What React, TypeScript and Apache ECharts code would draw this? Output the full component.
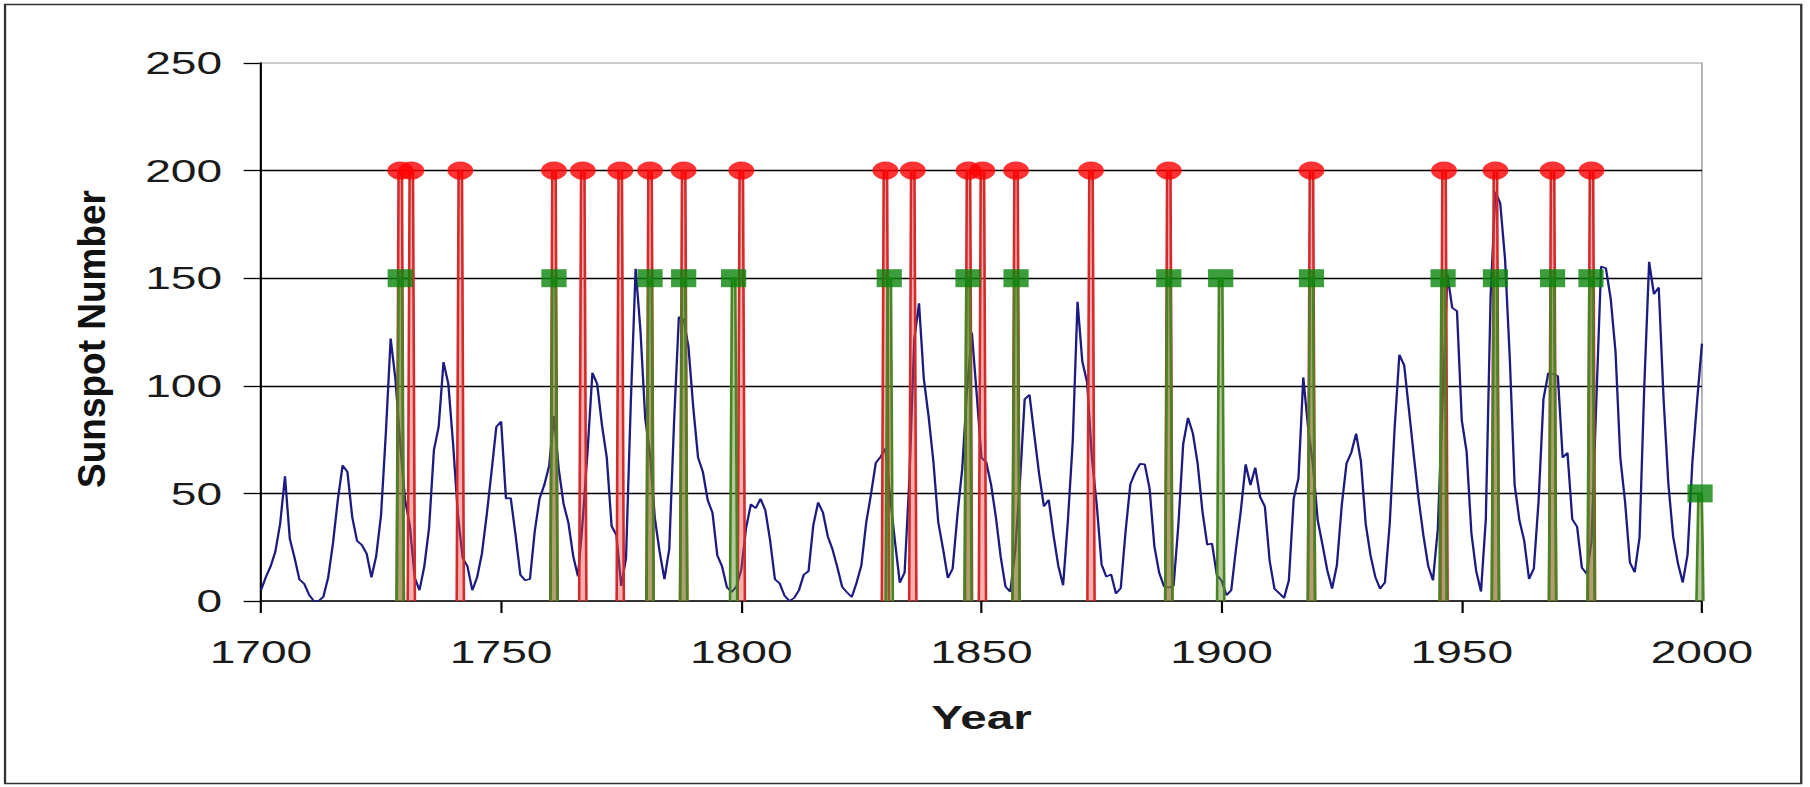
import React, { useEffect, useRef } from "react";
import * as echarts from "echarts";

// Yearly sunspot numbers, 1700 .. 2000
const START_YEAR = 1700;
const sunspots = [
  5, 11, 16, 23, 36, 58, 29, 20, 10, 8,
  3, 0, 0, 2, 11, 27, 47, 63, 60, 39,
  28, 26, 22, 11, 21, 40, 78, 122, 103, 73,
  47, 35, 11, 5, 16, 34, 70, 81, 111, 101,
  73, 40, 20, 16, 5, 11, 22, 40, 60, 80.9,
  83.4, 47.7, 47.8, 30.7, 12.2, 9.6, 10.2, 32.4, 47.6, 54,
  62.9, 85.9, 61.2, 45.1, 36.4, 20.9, 11.4, 37.8, 69.8, 106.1,
  100.8, 81.6, 66.5, 34.8, 30.6, 7, 19.8, 92.5, 154.4, 125.9,
  84.8, 68.1, 38.5, 22.8, 10.2, 24.1, 82.9, 132, 130.9, 118.1,
  89.9, 66.6, 60, 46.9, 41, 21.3, 16, 6.4, 4.1, 6.8,
  14.5, 34, 45, 43.1, 47.5, 42.2, 28.1, 10.1, 8.1, 2.5,
  0, 1.4, 5, 12.2, 13.9, 35.4, 45.8, 41.1, 30.1, 23.9,
  15.6, 6.6, 4, 1.8, 8.5, 16.6, 36.3, 49.6, 64.2, 67,
  70.9, 47.8, 27.5, 8.5, 13.2, 56.9, 121.5, 138.3, 103.2, 85.7,
  64.6, 36.7, 24.2, 10.7, 15, 40.1, 61.5, 98.5, 124.7, 96.3,
  66.6, 64.5, 54.1, 39, 20.6, 6.7, 4.3, 22.7, 54.8, 93.8,
  95.8, 77.2, 59.1, 44, 47, 30.5, 16.3, 7.3, 37.6, 74,
  139, 111.2, 101.6, 66.2, 44.7, 17, 11.3, 12.4, 3.4, 6,
  32.3, 54.3, 59.7, 63.7, 63.5, 52.2, 25.4, 13.1, 6.8, 6.3,
  7.1, 35.6, 73, 85.1, 78, 64, 41.8, 26.2, 26.7, 12.1,
  9.5, 2.7, 5, 24.4, 42, 63.5, 53.8, 62, 48.5, 43.9,
  18.6, 5.7, 3.6, 1.4, 9.6, 47.4, 57.1, 103.9, 80.6, 63.6,
  37.6, 26.1, 14.2, 5.8, 16.7, 44.3, 63.9, 69, 77.8, 64.9,
  35.7, 21.2, 11.1, 5.7, 8.7, 36.1, 79.7, 114.4, 109.6, 88.8,
  67.8, 47.5, 30.6, 16.3, 9.6, 33.2, 92.6, 151.6, 136.3, 134.7,
  83.9, 69.4, 31.5, 13.9, 4.4, 38, 141.7, 190.2, 184.8, 159,
  112.3, 53.9, 37.5, 27.9, 10.2, 15.1, 47, 93.8, 105.9, 105.5,
  104.5, 66.6, 68.9, 38, 34.5, 15.5, 12.6, 27.5, 92.5, 155.4,
  154.6, 140.5, 115.9, 66.6, 45.9, 17.9, 13.4, 29.4, 100.2, 157.6,
  142.6, 145.7, 94.3, 54.6, 29.9, 17.5, 8.6, 21.5, 64.3, 93.3,
  119.6,
];
const years = sunspots.map((_, i) => START_YEAR + i);

// Red events (circle marker at 200)
const redYears = [
  1729, 1731.3, 1741.5, 1761, 1767, 1774.8, 1781, 1788, 1800, 1830,
  1835.7, 1847.3, 1850.2, 1857.2, 1872.8, 1889, 1918.7, 1946.3, 1957,
  1968.9, 1977,
];
const redValues = redYears.map(() => 200);

// Green events (square marker)
const greenYears = [
  1729, 1761, 1781, 1788, 1798.4, 1830.8, 1847.2, 1857.2, 1889, 1899.8,
  1918.7, 1946.1, 1957, 1968.9, 1976.9, 1999.6,
];
const greenValues = [
  150, 150, 150, 150, 150, 150, 150, 150, 150, 150,
  150, 150, 150, 150, 150, 50,
];

// Axes
const X_MIN = 1700;
const X_MAX = 2000;
const X_STEP = 50;
const Y_MIN = 0;
const Y_MAX = 250;
const Y_STEP = 50;

const STRETCH = 1.441; // the original picture is stretched horizontally
const W = 1256;
const H = 787;
const FONT = '"Liberation Sans", Arial, sans-serif';

// each event is drawn as a thin stripe from the axis up to its value
function stripes(xs: number[], ys: number[], top: number, bottom: number) {
  const out: any[] = [];
  xs.forEach((x, i) => {
    out.push(
      [x - bottom, 0],
      [x - top, ys[i]],
      [x + top, ys[i]],
      [x + bottom, 0],
      [x + bottom, "-"]
    );
  });
  return out;
}

export default function App() {
  const ref = useRef<HTMLDivElement>(null);
  useEffect(() => {
    if (!ref.current) return;
    const chart = echarts.init(ref.current, null, { renderer: "svg" });
    const topHalf = 0.35;
    const bottomHalf = 0.75;
    chart.setOption({
      animation: false,
      backgroundColor: "#ffffff",
      grid: {
        left: 181.1,
        top: 63,
        width: 1000,
        height: 538,
        show: true,
        borderColor: "#9a9a9a",
        borderWidth: 1,
        containLabel: false,
      },
      xAxis: {
        type: "value",
        min: X_MIN,
        max: X_MAX,
        interval: X_STEP,
        name: "Year",
        nameLocation: "middle",
        nameGap: 100,
        nameTextStyle: {
          fontSize: 33,
          fontWeight: "bold",
          fontFamily: FONT,
          color: "#1a1a1a",
        },
        axisLine: { show: true, onZero: false, lineStyle: { color: "#000", width: 1.5 } },
        axisTick: { show: true, inside: false, length: 12, lineStyle: { color: "#000", width: 1.5 } },
        axisLabel: {
          margin: 35,
          fontSize: 32,
          fontFamily: FONT,
          color: "#1a1a1a",
          formatter: (v: number) => String(v),
        },
        splitLine: { show: false },
      },
      yAxis: {
        type: "value",
        min: Y_MIN,
        max: Y_MAX,
        interval: Y_STEP,
        axisLine: { show: true, lineStyle: { color: "#000", width: 1.5 } },
        axisTick: { show: true, inside: false, length: 12, lineStyle: { color: "#000", width: 1.3 } },
        axisLabel: {
          margin: 27,
          fontSize: 32,
          fontFamily: FONT,
          color: "#1a1a1a",
        },
        splitLine: {
          show: true,
          showMinLine: false,
          showMaxLine: false,
          lineStyle: { color: "#000", width: 1.3 },
        },
      },
      graphic: [
        {
          type: "rect",
          shape: { x: 3.5, y: 4.5, width: 1246.5, height: 779 },
          style: { fill: "none", stroke: "#333", lineWidth: 1.6 },
          silent: true,
        },
        {
          type: "text",
          x: 63.5,
          y: 339,
          rotation: Math.PI / 2,
          scaleX: 1.37,
          style: {
            text: "Sunspot Number",
            font: 'bold 27px "Liberation Sans", Arial, sans-serif',
            fill: "#111",
            align: "center",
            verticalAlign: "middle",
            textAlign: "center",
            textVerticalAlign: "middle",
          },
          silent: true,
        },
      ],
      series: [
        {
          name: "Sunspot Number",
          type: "line",
          data: years.map((y, i) => [y, sunspots[i]]),
          showSymbol: false,
          symbol: "none",
          lineStyle: { color: "#1b1b82", width: 1.6 },
          z: 2,
        },
        {
          name: "Red lines",
          type: "line",
          data: stripes(redYears, redValues, topHalf, bottomHalf),
          showSymbol: false,
          symbol: "none",
          connectNulls: false,
          lineStyle: { color: "#d42a2a", width: 1.8 },
          areaStyle: { color: "rgba(235,70,70,0.6)", origin: "start" },
          z: 3,
        },
        {
          name: "Red events",
          type: "scatter",
          data: redYears.map((y, i) => [y, redValues[i]]),
          symbol: "circle",
          symbolSize: 18,
          itemStyle: { color: "#ff0000" },
          z: 4,
        },
        {
          name: "Green lines",
          type: "line",
          data: stripes(greenYears, greenValues, topHalf, bottomHalf),
          showSymbol: false,
          symbol: "none",
          connectNulls: false,
          lineStyle: { color: "#468424", width: 1.8 },
          areaStyle: { color: "rgba(95,135,35,0.65)", origin: "start" },
          z: 5,
        },
        {
          name: "Green events",
          type: "scatter",
          data: greenYears.map((y, i) => [y, greenValues[i]]),
          symbol: "rect",
          symbolSize: [17.5, 18],
          itemStyle: { color: "#0a840a" },
          z: 6,
        },
      ],
    });
    return () => chart.dispose();
  }, []);
  return (
    <div
      ref={ref}
      style={{
        position: "absolute",
        left: 0,
        top: 0,
        width: W,
        height: H,
        transform: `scaleX(${STRETCH})`,
        transformOrigin: "0 0",
      }}
    />
  );
}
